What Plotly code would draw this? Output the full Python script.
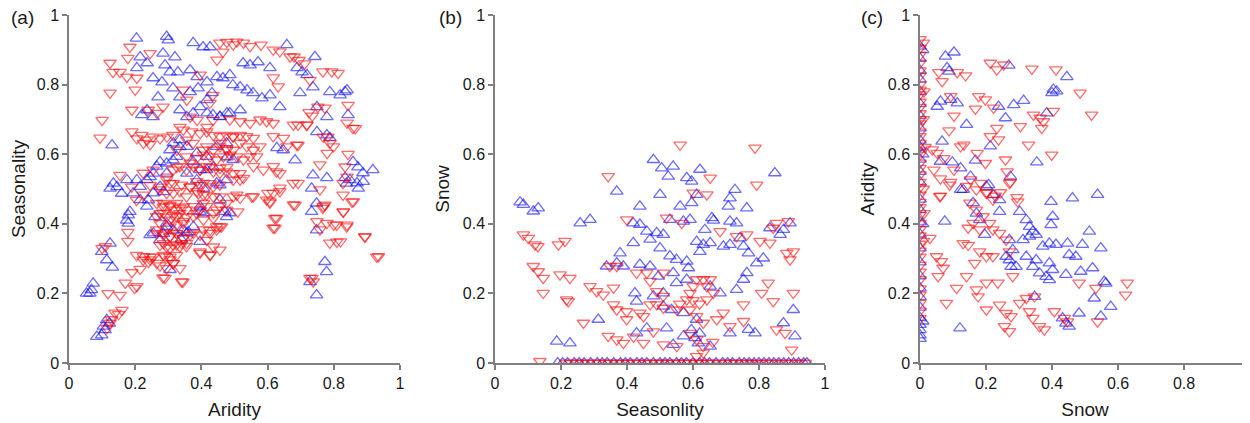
import plotly.graph_objects as go

# ---------------- data ----------------
# Panel (a): Aridity (x) vs Seasonality (y)
A_BLUE = [
    (0.204,0.933),(0.295,0.938),(0.300,0.928),(0.375,0.920),(0.405,0.908),(0.426,0.908),
    (0.284,0.890),(0.320,0.879),(0.290,0.856),(0.215,0.879),(0.236,0.862),(0.205,0.848),
    (0.254,0.819),(0.281,0.807),(0.305,0.836),(0.329,0.836),(0.366,0.842),(0.387,0.822),
    (0.417,0.807),(0.447,0.822),(0.465,0.819),(0.486,0.828),(0.269,0.764),(0.314,0.790),
    (0.335,0.764),(0.366,0.779),(0.390,0.790),(0.417,0.756),(0.432,0.776),(0.220,0.713),
    (0.254,0.707),(0.236,0.727),(0.335,0.727),(0.356,0.707),(0.375,0.718),(0.396,0.736),
    (0.417,0.718),(0.435,0.713),(0.456,0.707),(0.477,0.718),(0.130,0.626),(0.305,0.612),
    (0.335,0.621),(0.375,0.578),(0.396,0.555),(0.435,0.563),(0.477,0.592),(0.314,0.583),
    (0.275,0.578),(0.245,0.535),(0.205,0.526),(0.175,0.526),(0.145,0.506),
    (0.658,0.914),(0.743,0.880),(0.526,0.862),(0.547,0.856),(0.571,0.865),(0.607,0.848),
    (0.689,0.848),(0.704,0.836),(0.719,0.828),(0.495,0.799),(0.517,0.793),(0.538,0.784),
    (0.556,0.776),(0.583,0.761),(0.607,0.770),(0.637,0.736),(0.698,0.776),(0.737,0.793),
    (0.788,0.779),(0.819,0.770),(0.834,0.779),(0.840,0.784),(0.843,0.713),(0.749,0.736),
    (0.779,0.707),(0.749,0.664),(0.779,0.655),(0.788,0.647),(0.628,0.618),(0.683,0.583),
    (0.737,0.540),(0.779,0.532),(0.834,0.532),(0.858,0.578),(0.873,0.563),(0.888,0.546),
    (0.918,0.555),(0.870,0.517),(0.849,0.526),(0.647,0.612),(0.456,0.708),(0.486,0.718),
    (0.517,0.727),(0.315,0.632),(0.335,0.641),(0.356,0.622),(0.386,0.603),(0.416,0.593),
    (0.446,0.622),(0.476,0.632),(0.496,0.584),(0.325,0.593),(0.295,0.574),(0.265,0.565),
    (0.255,0.545),(0.235,0.526),(0.215,0.507),(0.194,0.488),(0.215,0.469),(0.235,0.450),
    (0.255,0.488),(0.275,0.507),(0.295,0.545),(0.356,0.545),(0.386,0.526),(0.416,0.555),
    (0.446,0.517),(0.476,0.526),(0.456,0.469),(0.486,0.431),(0.396,0.450),(0.406,0.431),
    (0.376,0.392),(0.356,0.373),(0.340,0.354),(0.305,0.268),(0.295,0.392),(0.275,0.354),
    (0.255,0.373),(0.124,0.502),(0.159,0.487),(0.134,0.516),(0.240,0.468),(0.260,0.420),
    (0.295,0.401),(0.315,0.382),(0.285,0.372),(0.345,0.382),(0.360,0.377),(0.396,0.435),
    (0.471,0.435),(0.476,0.420),(0.456,0.511),(0.406,0.502),(0.285,0.492),(0.396,0.349),
    (0.245,0.368),(0.124,0.344),(0.099,0.320),(0.114,0.296),(0.131,0.275),(0.073,0.229),
    (0.063,0.200),(0.053,0.200),(0.068,0.210),(0.122,0.114),(0.114,0.124),(0.109,0.095),
    (0.104,0.105),(0.099,0.080),(0.084,0.076),(0.179,0.425),(0.179,0.401),(0.174,0.410),
    (0.184,0.435),(0.733,0.502),(0.748,0.459),(0.733,0.435),(0.748,0.382),(0.773,0.291),
    (0.778,0.262),(0.728,0.233),(0.748,0.195),(0.838,0.516),(0.874,0.502),(0.889,0.521),
]
A_RED = [
    (0.124,0.862),(0.178,0.876),(0.245,0.890),(0.184,0.908),(0.133,0.836),(0.154,0.836),
    (0.175,0.822),(0.205,0.819),(0.200,0.785),(0.124,0.776),(0.190,0.727),(0.100,0.698),
    (0.094,0.647),(0.190,0.665),(0.220,0.655),(0.236,0.641),(0.254,0.650),(0.275,0.645),
    (0.296,0.650),(0.314,0.655),(0.205,0.645),(0.225,0.632),(0.245,0.628),(0.239,0.727),
    (0.266,0.718),(0.284,0.736),(0.344,0.785),(0.356,0.756),(0.396,0.828),(0.435,0.770),
    (0.426,0.747),(0.456,0.920),(0.477,0.922),(0.447,0.871),(0.465,0.894),(0.387,0.698),
    (0.366,0.707),(0.417,0.678),(0.435,0.698),(0.335,0.678),(0.356,0.641),(0.326,0.612),
    (0.375,0.632),(0.405,0.612),(0.456,0.632),(0.477,0.612),(0.495,0.650),(0.224,0.546),
    (0.254,0.555),(0.154,0.540),(0.296,0.535),(0.326,0.563),(0.366,0.575),(0.396,0.555),
    (0.426,0.563),(0.456,0.546),(0.477,0.563),(0.224,0.483),(0.204,0.468),(0.189,0.506),
    (0.245,0.511),(0.275,0.506),(0.305,0.516),
    # upper right
    (0.507,0.923),(0.496,0.915),(0.527,0.920),(0.547,0.910),(0.580,0.914),(0.617,0.900),
    (0.637,0.895),(0.668,0.880),(0.680,0.880),(0.695,0.870),(0.712,0.860),(0.767,0.837),
    (0.794,0.837),(0.813,0.833),(0.728,0.813),(0.632,0.794),(0.617,0.820),(0.843,0.741),
    (0.858,0.675),(0.840,0.690),(0.773,0.733),(0.752,0.736),(0.692,0.684),(0.719,0.684),
    (0.692,0.626),(0.725,0.720),(0.735,0.710),(0.782,0.650),(0.788,0.632),(0.780,0.603),
    (0.843,0.600),(0.834,0.564),(0.758,0.570),(0.840,0.535),(0.828,0.517),(0.865,0.674),
    (0.768,0.650),(0.799,0.622),(0.859,0.464),(0.829,0.435),(0.839,0.392),(0.758,0.498),
    (0.768,0.450),(0.749,0.407),(0.758,0.383),(0.800,0.397),(0.820,0.349),(0.894,0.364),
    (0.935,0.306),(0.728,0.244),(0.738,0.234),(0.678,0.455),(0.622,0.416),(0.622,0.388),
    (0.517,0.526),(0.552,0.478),(0.507,0.483),(0.510,0.435),(0.601,0.488),(0.607,0.460),
    (0.637,0.503),(0.627,0.416),(0.617,0.388),(0.683,0.454),(0.677,0.517),(0.692,0.517),
    (0.773,0.454),(0.767,0.445),(0.828,0.483),(0.855,0.463),(0.828,0.434),(0.779,0.402),
    (0.809,0.397),(0.840,0.397),(0.788,0.345),(0.809,0.348),(0.894,0.362),(0.930,0.305),
    (0.734,0.244),
    # central mass
    (0.345,0.670),(0.371,0.665),(0.396,0.660),(0.416,0.665),(0.436,0.655),(0.456,0.651),
    (0.476,0.655),(0.496,0.651),(0.517,0.655),(0.537,0.651),(0.557,0.646),(0.486,0.699),
    (0.517,0.694),(0.547,0.689),(0.577,0.699),(0.597,0.694),(0.617,0.689),(0.678,0.684),
    (0.718,0.684),(0.688,0.627),(0.617,0.651),(0.648,0.646),(0.658,0.622),(0.416,0.622),
    (0.436,0.612),(0.456,0.622),(0.476,0.617),(0.496,0.612),(0.517,0.632),(0.537,0.622),
    (0.557,0.612),(0.577,0.622),(0.355,0.593),(0.386,0.589),(0.406,0.598),(0.426,0.593),
    (0.446,0.584),(0.466,0.593),(0.486,0.598),(0.507,0.593),(0.527,0.584),(0.547,0.593),
    (0.567,0.593),(0.315,0.555),(0.335,0.565),(0.355,0.555),(0.376,0.565),(0.396,0.555),
    (0.416,0.565),(0.436,0.550),(0.456,0.560),(0.476,0.550),(0.496,0.545),(0.517,0.545),
    (0.557,0.565),(0.587,0.555),(0.617,0.565),(0.627,0.550),(0.637,0.545),(0.295,0.526),
    (0.315,0.517),(0.340,0.512),(0.366,0.507),(0.386,0.522),(0.406,0.517),(0.436,0.507),
    (0.456,0.512),(0.496,0.526),(0.527,0.531),(0.275,0.498),(0.295,0.488),(0.315,0.488),
    (0.335,0.493),(0.355,0.478),(0.386,0.493),(0.406,0.483),(0.436,0.478),(0.496,0.478),
    (0.517,0.474),(0.557,0.478),(0.597,0.469),(0.607,0.464),(0.617,0.488),(0.637,0.493),
    (0.285,0.459),(0.305,0.450),(0.320,0.440),(0.335,0.445),(0.355,0.440),(0.376,0.450),
    (0.396,0.440),(0.416,0.450),(0.436,0.431),(0.456,0.450),(0.476,0.440),(0.265,0.421),
    (0.285,0.431),(0.305,0.411),(0.325,0.421),(0.345,0.407),(0.376,0.421),(0.406,0.411),
    (0.436,0.416),(0.456,0.392),(0.265,0.383),(0.285,0.373),(0.305,0.364),(0.325,0.373),
    (0.345,0.359),(0.376,0.373),(0.406,0.383),(0.426,0.373),(0.446,0.383),(0.461,0.392),
    (0.285,0.344),(0.305,0.330),(0.325,0.340),(0.340,0.344),(0.355,0.335),(0.225,0.306),
    (0.245,0.297),(0.265,0.287),(0.290,0.306),(0.305,0.297),(0.315,0.287),(0.290,0.244),
    (0.340,0.234),(0.396,0.316),(0.426,0.311),
    (0.265,0.459),(0.285,0.449),(0.305,0.454),(0.325,0.459),(0.345,0.449),(0.275,0.430),
    (0.295,0.420),(0.315,0.425),(0.335,0.430),(0.355,0.420),(0.275,0.401),(0.305,0.392),
    (0.325,0.397),(0.345,0.401),(0.265,0.372),(0.285,0.368),(0.305,0.363),(0.325,0.372),
    (0.345,0.358),(0.366,0.368),(0.275,0.339),(0.295,0.334),(0.315,0.339),(0.335,0.334),
    (0.355,0.344),(0.285,0.310),(0.305,0.305),(0.325,0.310),(0.315,0.286),(0.295,0.272),
    (0.335,0.272),(0.386,0.430),(0.406,0.459),(0.426,0.382),(0.446,0.392),(0.396,0.368),
    (0.416,0.353),(0.436,0.334),(0.456,0.325),(0.396,0.320),(0.426,0.310),(0.391,0.487),
    (0.416,0.483),(0.366,0.506),(0.396,0.511),(0.426,0.516),(0.456,0.478),(0.446,0.440),
    (0.476,0.459),(0.204,0.310),(0.224,0.296),(0.245,0.305),
    # lower-left tail
    (0.178,0.376),(0.178,0.350),(0.190,0.260),(0.170,0.230),(0.205,0.220),(0.198,0.215),
    (0.215,0.270),(0.240,0.290),(0.118,0.200),(0.154,0.195),(0.160,0.152),(0.139,0.144),
    (0.124,0.115),(0.115,0.100),(0.128,0.125),(0.150,0.140),(0.254,0.305),(0.275,0.280),
    (0.284,0.245),(0.344,0.233),(0.100,0.330),(0.110,0.335),
]

# Panel (b): Seasonlity (x) vs Snow (y)
B_BLUE = [
    (0.076,0.462),(0.086,0.455),(0.116,0.436),(0.131,0.445),(0.258,0.402),(0.288,0.412),
    (0.369,0.493),(0.439,0.450),(0.480,0.584),(0.505,0.560),(0.540,0.565),(0.525,0.536),
    (0.500,0.484),(0.581,0.532),(0.596,0.522),(0.621,0.556),(0.611,0.484),(0.596,0.460),
    (0.561,0.450),(0.727,0.498),(0.712,0.474),(0.707,0.450),(0.763,0.445),(0.848,0.546),
    (0.419,0.402),(0.439,0.398),(0.460,0.378),(0.490,0.374),(0.510,0.369),(0.470,0.355),
    (0.419,0.345),(0.500,0.330),(0.530,0.412),(0.571,0.407),(0.591,0.412),(0.657,0.417),
    (0.662,0.410),(0.712,0.407),(0.732,0.402),(0.894,0.402),(0.636,0.383),(0.611,0.349),
    (0.631,0.340),(0.652,0.345),(0.621,0.320),(0.692,0.335),(0.712,0.340),(0.742,0.359),
    (0.753,0.335),(0.768,0.316),(0.793,0.287),(0.813,0.301),(0.864,0.369),(0.874,0.383),
    (0.833,0.388),(0.379,0.316),(0.369,0.287),(0.389,0.278),(0.338,0.278),(0.439,0.283),
    (0.470,0.278),(0.495,0.249),(0.530,0.307),(0.550,0.297),(0.581,0.292),(0.586,0.273),
    (0.581,0.240),(0.540,0.259),(0.550,0.230),(0.510,0.201),(0.652,0.220),(0.682,0.201),
    (0.732,0.211),(0.763,0.259),(0.753,0.240),(0.424,0.201),(0.429,0.177),(0.480,0.192),
    (0.510,0.163),(0.535,0.153),(0.571,0.144),(0.611,0.125),(0.313,0.125),(0.187,0.062),
    (0.227,0.057),(0.429,0.086),(0.460,0.100),(0.520,0.100),(0.540,0.053),(0.571,0.077),
    (0.606,0.072),(0.616,0.057),(0.652,0.048),(0.712,0.086),(0.768,0.096),(0.788,0.086),
    (0.874,0.115),(0.904,0.153),(0.909,0.077),(0.595,0.095),(0.620,0.085),
]
B_RED = [
    (0.561,0.627),(0.788,0.618),(0.793,0.512),(0.343,0.536),(0.652,0.532),(0.642,0.484),
    (0.601,0.489),(0.086,0.369),(0.101,0.359),(0.121,0.340),(0.192,0.340),(0.212,0.350),
    (0.130,0.335),(0.399,0.412),(0.520,0.417),(0.566,0.402),(0.682,0.378),(0.732,0.364),
    (0.763,0.369),(0.803,0.350),(0.833,0.345),(0.843,0.388),(0.853,0.402),(0.889,0.407),
    (0.884,0.316),(0.904,0.320),(0.894,0.297),(0.828,0.230),(0.843,0.177),(0.904,0.201),
    (0.116,0.278),(0.131,0.263),(0.146,0.244),(0.197,0.254),(0.227,0.244),(0.146,0.201),
    (0.222,0.177),(0.217,0.182),(0.288,0.220),(0.308,0.206),(0.328,0.196),(0.359,0.216),
    (0.268,0.115),(0.348,0.278),(0.369,0.278),(0.429,0.259),(0.460,0.259),(0.510,0.259),
    (0.470,0.235),(0.490,0.206),(0.510,0.192),(0.359,0.168),(0.369,0.153),(0.399,0.148),
    (0.439,0.144),(0.399,0.125),(0.450,0.134),(0.470,0.168),(0.490,0.168),(0.510,0.158),
    (0.551,0.153),(0.581,0.182),(0.591,0.201),(0.601,0.220),(0.611,0.240),(0.631,0.240),
    (0.642,0.220),(0.652,0.240),(0.662,0.201),(0.591,0.153),(0.611,0.134),(0.631,0.115),
    (0.672,0.125),(0.642,0.182),(0.620,0.170),(0.600,0.180),(0.560,0.170),(0.343,0.077),
    (0.369,0.067),(0.389,0.057),(0.450,0.057),(0.510,0.053),(0.551,0.048),(0.591,0.086),
    (0.611,0.067),(0.631,0.048),(0.631,0.029),(0.611,0.019),(0.692,0.144),(0.712,0.105),
    (0.753,0.168),(0.753,0.120),(0.808,0.201),(0.853,0.096),(0.879,0.086),(0.899,0.038),
    (0.136,0.005),(0.420,0.075),(0.480,0.090),(0.660,0.060),
]
# points lying on Snow = 0 (half hidden by the axis)
B_BLUE_ZERO_X = [0.19,0.205,0.22,0.24,0.255,0.27,0.29,0.31,0.325,0.34,0.36,0.38,0.395,
                 0.41,0.43,0.445,0.46,0.48,0.50,0.515,0.53,0.55,0.565,0.58,0.60,0.62,
                 0.635,0.65,0.67,0.69,0.705,0.72,0.74,0.755,0.77,0.785,0.80,0.815,0.83,
                 0.845,0.86,0.875,0.89,0.905,0.92,0.935,0.945]
B_RED_ZERO_X = [0.215,0.23,0.25,0.265,0.28,0.30,0.315,0.335,0.35,0.37,0.385,0.40,0.42,
                0.435,0.455,0.47,0.49,0.505,0.52,0.54,0.555,0.575,0.59,0.61,0.625,0.645,
                0.66,0.68,0.70,0.715,0.73,0.75,0.765,0.78,0.80,0.82,0.84,0.86,0.88,0.90,
                0.92,0.94]

# Panel (c): Snow (x) vs Aridity (y)
C_BLUE = [
    (0.077,0.881),(0.103,0.893),(0.082,0.848),(0.088,0.838),(0.269,0.855),(0.445,0.822),
    (0.404,0.786),(0.414,0.781),(0.400,0.776),(0.062,0.752),(0.093,0.757),(0.113,0.747),
    (0.052,0.737),(0.238,0.737),(0.284,0.742),(0.314,0.754),(0.384,0.718),(0.259,0.704),
    (0.141,0.685),(0.067,0.637),(0.213,0.623),(0.354,0.577),(0.168,0.582),(0.098,0.577),
    (0.062,0.579),(0.123,0.560),(0.274,0.536),(0.208,0.512),(0.123,0.498),(0.153,0.536),
    (0.397,0.464),(0.462,0.474),(0.538,0.484),(0.402,0.421),(0.397,0.397),(0.075,0.407),
    (0.131,0.498),(0.201,0.507),(0.221,0.483),(0.241,0.469),(0.241,0.435),(0.161,0.460),
    (0.171,0.430),(0.181,0.411),(0.196,0.369),(0.302,0.435),(0.322,0.411),(0.332,0.392),
    (0.342,0.378),(0.352,0.369),(0.332,0.364),(0.312,0.354),(0.271,0.354),(0.281,0.325),
    (0.271,0.296),(0.276,0.277),(0.261,0.306),(0.291,0.277),(0.322,0.306),(0.342,0.277),
    (0.352,0.296),(0.362,0.258),(0.392,0.287),(0.402,0.268),(0.372,0.335),(0.392,0.344),
    (0.412,0.340),(0.447,0.344),(0.452,0.311),(0.472,0.306),(0.492,0.340),(0.513,0.378),
    (0.548,0.330),(0.487,0.263),(0.523,0.273),(0.442,0.254),(0.392,0.239),(0.382,0.248),
    (0.558,0.234),(0.563,0.229),(0.528,0.186),(0.578,0.162),(0.548,0.134),(0.482,0.143),
    (0.432,0.129),(0.452,0.105),(0.442,0.114),(0.347,0.191),(0.121,0.100),
    (0.0,0.91),(0.0,0.875),(0.0,0.84),(0.0,0.815),(0.0,0.78),(0.0,0.745),(0.0,0.71),
    (0.0,0.675),(0.0,0.64),(0.0,0.62),(0.0,0.585),(0.0,0.55),(0.0,0.52),(0.0,0.47),
    (0.0,0.44),(0.0,0.405),(0.0,0.37),(0.0,0.33),(0.0,0.29),(0.0,0.25),(0.0,0.215),
    (0.0,0.19),(0.0,0.16),(0.0,0.13),(0.0,0.11),(0.0,0.095),(0.0,0.08),(0.0,0.07),
    (0.008,0.90),(0.008,0.60),(0.008,0.40),(0.008,0.12),
]
C_RED = [
    (0.213,0.862),(0.233,0.843),(0.254,0.857),(0.339,0.845),(0.412,0.843),(0.057,0.835),
    (0.113,0.835),(0.138,0.826),(0.067,0.809),(0.093,0.766),(0.178,0.766),(0.198,0.757),
    (0.168,0.730),(0.223,0.733),(0.485,0.776),(0.520,0.713),(0.404,0.724),(0.344,0.713),
    (0.364,0.704),(0.374,0.694),(0.103,0.710),(0.304,0.680),(0.369,0.675),(0.088,0.668),
    (0.233,0.675),(0.213,0.651),(0.238,0.642),(0.329,0.627),(0.133,0.627),(0.123,0.622),
    (0.399,0.598),(0.173,0.603),(0.259,0.584),(0.198,0.574),(0.037,0.613),(0.052,0.603),
    (0.072,0.588),(0.264,0.550),(0.274,0.520),(0.103,0.555),(0.093,0.520),(0.042,0.555),
    (0.062,0.530),(0.153,0.527),(0.183,0.517),(0.203,0.490),(0.228,0.480),(0.294,0.476),
    (0.062,0.480),(0.244,0.490),(0.090,0.512),(0.060,0.479),(0.141,0.508),(0.171,0.498),
    (0.201,0.488),(0.221,0.469),(0.271,0.517),(0.296,0.464),(0.151,0.460),(0.171,0.440),
    (0.191,0.421),(0.211,0.402),(0.161,0.402),(0.146,0.388),(0.181,0.383),(0.221,0.383),
    (0.241,0.373),(0.261,0.354),(0.131,0.344),(0.146,0.339),(0.181,0.320),(0.201,0.306),
    (0.221,0.306),(0.166,0.287),(0.141,0.249),(0.271,0.320),(0.281,0.249),(0.030,0.359),
    (0.050,0.306),(0.065,0.292),(0.070,0.273),(0.055,0.249),(0.111,0.215),(0.171,0.211),
    (0.176,0.191),(0.201,0.230),(0.236,0.230),(0.080,0.172),(0.201,0.153),(0.241,0.167),
    (0.261,0.143),(0.276,0.134),(0.302,0.172),(0.322,0.186),(0.347,0.191),(0.332,0.148),
    (0.342,0.129),(0.362,0.105),(0.377,0.096),(0.256,0.105),(0.271,0.091),(0.407,0.148),
    (0.437,0.129),(0.447,0.119),(0.482,0.230),(0.533,0.215),(0.538,0.119),(0.628,0.230),
    (0.623,0.196),
    (0.0,0.93),(0.0,0.905),(0.0,0.885),(0.0,0.862),(0.0,0.84),(0.0,0.826),(0.0,0.80),
    (0.0,0.785),(0.0,0.772),(0.0,0.75),(0.0,0.735),(0.0,0.717),(0.0,0.70),(0.0,0.688),
    (0.0,0.664),(0.0,0.651),(0.0,0.632),(0.0,0.61),(0.0,0.598),(0.0,0.575),(0.0,0.56),
    (0.0,0.541),(0.0,0.52),(0.0,0.505),(0.0,0.483),(0.0,0.462),(0.0,0.447),(0.0,0.425),
    (0.0,0.401),(0.0,0.384),(0.0,0.366),(0.0,0.342),(0.0,0.322),(0.0,0.305),(0.0,0.281),
    (0.0,0.262),(0.0,0.24),(0.0,0.214),(0.0,0.196),(0.0,0.172),(0.0,0.15),(0.0,0.128),
    (0.01,0.92),(0.012,0.78),(0.01,0.70),(0.015,0.62),(0.01,0.50),(0.012,0.43),(0.01,0.35),
]

TICKS = [0, 0.2, 0.4, 0.6, 0.8, 1]
TICK_TEXT = ["0", "0.2", "0.4", "0.6", "0.8", "1"]
TICK_TEXT_C = ["0", "0.2", "0.4", "0.6", "0.8", ""]
X_TITLES = ["Aridity", "Seasonlity", "Snow"]
Y_TITLES = ["Seasonality", "Snow", "Aridity"]
PANEL_LABELS = ["(a)", "(b)", "(c)"]

# ---------------- figure ----------------
BLUE = "rgba(0,0,255,0.58)"
RED = "rgba(255,0,0,0.58)"
FONT = "Liberation Sans, Arial, Helvetica, sans-serif"
OFF = 8  # the page body adds an 8px margin; compensate in the layout

fig = go.Figure()

def add(points_blue, points_red, xa, ya):
    fig.add_trace(go.Scatter(
        x=[p[0] for p in points_blue], y=[p[1] for p in points_blue],
        mode="markers", xaxis=xa, yaxis=ya, showlegend=False, cliponaxis=True,
        marker=dict(symbol="triangle-up-open", size=11, color=BLUE,
                    line=dict(width=1.3, color=BLUE))))
    fig.add_trace(go.Scatter(
        x=[p[0] for p in points_red], y=[p[1] for p in points_red],
        mode="markers", xaxis=xa, yaxis=ya, showlegend=False, cliponaxis=True,
        marker=dict(symbol="triangle-down-open", size=11, color=RED,
                    line=dict(width=1.3, color=RED))))

add(A_BLUE, A_RED, "x", "y")
add(B_BLUE + [(v, 0.0) for v in B_BLUE_ZERO_X],
    B_RED + [(v, 0.0) for v in B_RED_ZERO_X], "x2", "y2")
add(C_BLUE, C_RED, "x3", "y3")

W, H = 1250, 423
domains = [[(69 - OFF) / W, (400 - OFF) / W],
           [(495 - OFF) / W, (825 - OFF) / W],
           [(920 - OFF) / W, (1250 - OFF) / W]]
axis_common = dict(
    range=[0, 1], tickvals=TICKS, showline=True, linecolor="#7f7f7f", linewidth=1.5,
    ticks="outside", ticklen=5, tickwidth=1.5, tickcolor="#7f7f7f",
    showgrid=False, zeroline=False, automargin=False, ticklabeloverflow="allow",
    tickfont=dict(family=FONT, size=16, color="#1a1a1a"),
)
layout = dict(
    width=W, height=H, margin=dict(l=0, r=0, t=15 - OFF, b=60 + OFF),
    paper_bgcolor="white", plot_bgcolor="white", template="none",
    font=dict(family=FONT, color="#1a1a1a"),
    annotations=[],
)
for i in range(3):
    sfx = "" if i == 0 else str(i + 1)
    layout["xaxis" + sfx] = dict(
        axis_common, domain=domains[i], anchor="y" + sfx,
        ticktext=TICK_TEXT_C if i == 2 else TICK_TEXT,
        title=dict(text=X_TITLES[i], font=dict(family=FONT, size=19, color="#1a1a1a"),
                   standoff=12))
    layout["yaxis" + sfx] = dict(
        axis_common, domain=[0, 1], anchor="x" + sfx, ticktext=TICK_TEXT,
        title=dict(text=Y_TITLES[i], font=dict(family=FONT, size=19, color="#1a1a1a"),
                   standoff=8))
label_x = [22, 450, 872]
for i in range(3):
    layout["annotations"].append(dict(
        text=PANEL_LABELS[i], xref="paper", yref="paper", x=(label_x[i] - OFF) / W,
        y=(363 - 18) / 348, xanchor="center", yanchor="middle", showarrow=False,
        font=dict(family=FONT, size=19, color="#1a1a1a")))

fig.update_layout(**layout)
fig.write_html("out.html", config={"displayModeBar": False})
